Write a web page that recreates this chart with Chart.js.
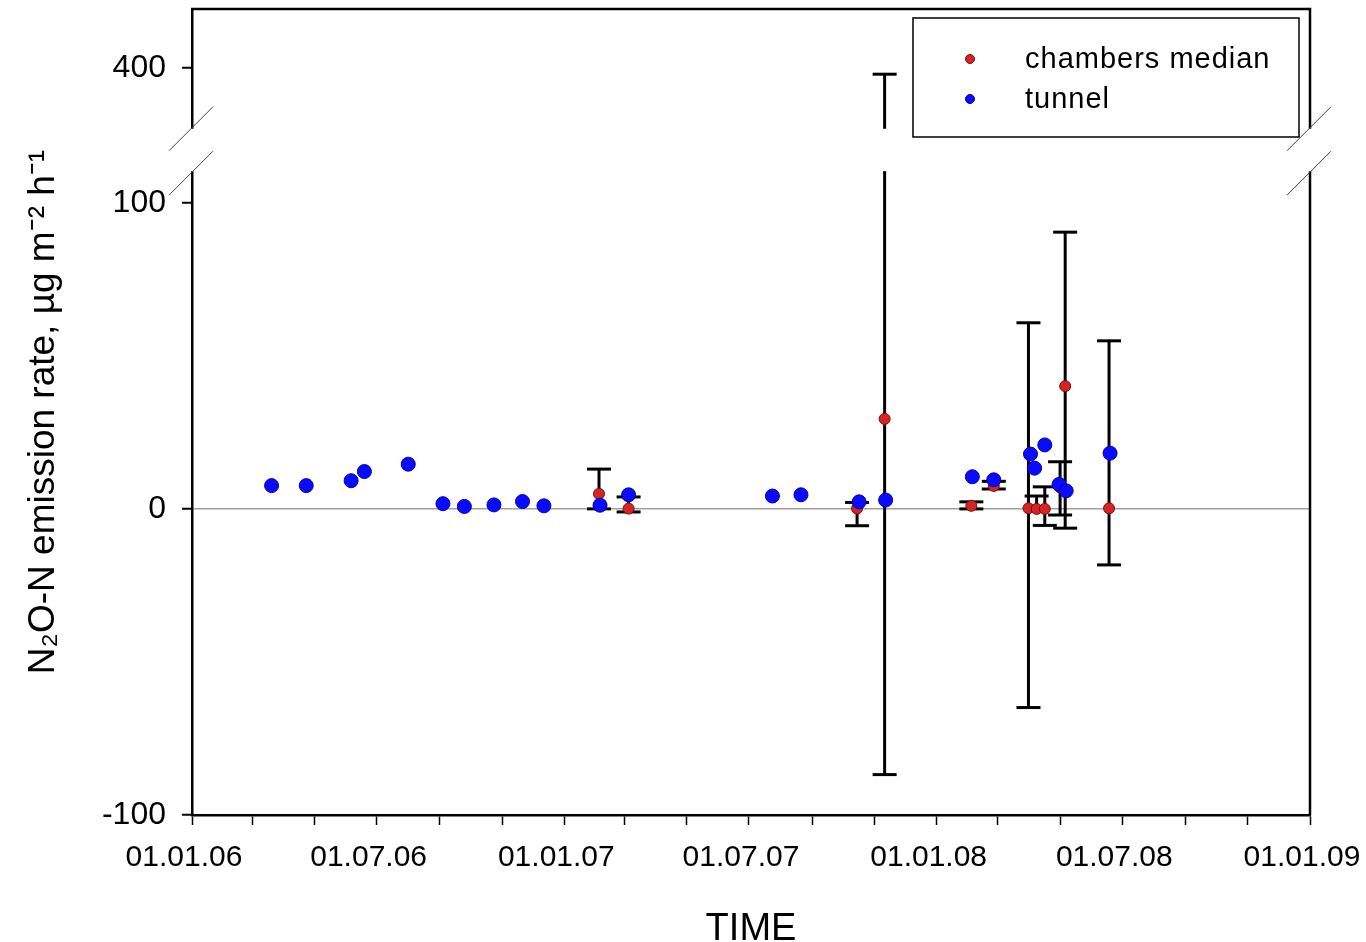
<!DOCTYPE html>
<html lang="en">
<head>
<meta charset="UTF-8">
<title>N2O-N emission rate</title>
<script src="https://cdn.jsdelivr.net/npm/chart.js"></script>
<style>
    body { margin: 0; background: #fff; }
    #caixa { width: 1366px; height: 942px; }
</style>
</head>
<body>
<div id="caixa"><canvas id="grafico" width="1366" height="942"></canvas></div>

<script>
    // tunnel measurements (dates yyyy-mm-dd)
    const tunnelDates = ['2006-03-20', '2006-04-23', '2006-06-06', '2006-06-19', '2006-08-01', '2006-09-04',
        '2006-09-25', '2006-10-24', '2006-11-21', '2006-12-12', '2007-02-05', '2007-03-05',
        '2007-07-24', '2007-08-21', '2007-10-17', '2007-11-12', '2008-02-05', '2008-02-26',
        '2008-04-02', '2008-04-06', '2008-04-16', '2008-04-30', '2008-05-07', '2008-06-19'];
    const tunnelValues = [7.6, 7.6, 9.2, 12.2, 14.6, 1.7, 0.8, 1.3, 2.4, 1.0, 1.2, 4.6,
        4.2, 4.6, 2.3, 2.9, 10.5, 9.5, 17.9, 13.3, 20.9, 8.0, 5.9, 18.2];

    // chambers: median with min / max
    const chamberDates = ['2007-02-04', '2007-03-05', '2007-10-15', '2007-11-11', '2008-02-04', '2008-02-26',
        '2008-03-31', '2008-04-08', '2008-04-16', '2008-05-01', '2008-05-06', '2008-06-18'];
    const chamberMedian = [4.9, 0.1, 0.1, 29.4, 1.0, 7.5, 0.2, 0.0, 0.0, 7.0, 40.1, 0.2];
    const chamberLow = [0.0, -1.0, -5.5, -86.8, 0.0, 6.5, -64.9, -0.5, -5.4, -2.0, -6.3, -18.3];
    const chamberHigh = [13.0, 3.9, 2.1, 398, 2.3, 9.0, 60.8, 4.2, 7.2, 15.4, 90.4, 54.9];

    const yTicks = [-100, 0, 100, 400];
    const xTickDates = ['2006-01-01', '2006-03-01', '2006-05-01', '2006-07-01', '2006-09-01', '2006-11-01',
        '2007-01-01', '2007-03-01', '2007-05-01', '2007-07-01', '2007-09-01', '2007-11-01',
        '2008-01-01', '2008-03-01', '2008-05-01', '2008-07-01', '2008-09-01', '2008-11-01', '2009-01-01'];
    const xTickLabels = ['01.01.06', '', '', '01.07.06', '', '', '01.01.07', '', '', '01.07.07', '', '',
        '01.01.08', '', '', '01.07.08', '', '', '01.01.09'];

    // eixo y quebrado: -100..110 em baixo, 380.5..419.3 em cima
    const yMin = -100, lowTop = 110, highBottom = 380.5, highTop = 419.3, gapSize = 14.5;

    function toDay(d) {
        return (Date.parse(d) - Date.parse('2006-01-01')) / 86400000;
    }

    function toVirtual(v) {
        if (v <= lowTop) return v;
        if (v >= highBottom) return lowTop + gapSize + (v - highBottom);
        return lowTop + gapSize * (v - lowTop) / (highBottom - lowTop);
    }

    function fromVirtual(v) {
        if (v <= lowTop) return v;
        if (v >= lowTop + gapSize) return v - lowTop - gapSize + highBottom;
        return lowTop + (v - lowTop) / gapSize * (highBottom - lowTop);
    }

    const vMax = toVirtual(highTop);

    class BrokenScale extends Chart.LinearScale {
        getPixelForValue(value) {
            if (value === null || value === undefined || isNaN(value)) return NaN;
            return this.getPixelForDecimal((toVirtual(value) - yMin) / (vMax - yMin));
        }
        getValueForPixel(pixel) {
            return fromVirtual(yMin + this.getDecimalForPixel(pixel) * (vMax - yMin));
        }
    }
    BrokenScale.id = 'broken';
    BrokenScale.defaults = {};
    Chart.register(BrokenScale);

    // barras de erro: low -> high, com null para separar
    const whiskerData = [];
    chamberDates.forEach((d, i) => {
        whiskerData.push({ x: toDay(d), y: chamberLow[i] });
        whiskerData.push({ x: toDay(d), y: chamberHigh[i] });
        whiskerData.push({ x: toDay(d), y: null });
    });

    const tunnelData = tunnelDates.map((d, i) => ({ x: toDay(d), y: tunnelValues[i] }));
    const chamberData = chamberDates.map((d, i) => ({ x: toDay(d), y: chamberMedian[i] }));

    const fonte = "'Liberation Sans', Arial, sans-serif";
    Chart.defaults.font.family = fonte;
    Chart.defaults.color = '#000';

    // moldura, quebra do eixo e legenda
    const moldura = {
        id: 'moldura',
        afterDraw(chart) {
            const ctx = chart.ctx;
            const a = chart.chartArea;
            const ys = chart.scales.y;
            const gTop = ys.getPixelForValue(highBottom);
            const gBot = ys.getPixelForValue(lowTop);
            ctx.save();
            ctx.strokeStyle = '#000';
            ctx.lineWidth = 2.5;
            ctx.beginPath();
            ctx.moveTo(a.left - 1, a.top);
            ctx.lineTo(a.right, a.top);
            ctx.lineTo(a.right, a.bottom);
            ctx.stroke();

            ctx.fillStyle = '#fff';
            ctx.fillRect(a.left - 4, gTop + 1, a.right - a.left + 8, gBot - gTop - 2);
            ctx.strokeStyle = '#444';
            ctx.lineWidth = 1;
            [a.left, a.right].forEach(x => {
                [gTop, gBot].forEach(y => {
                    ctx.beginPath();
                    ctx.moveTo(x - 23, y + 23);
                    ctx.lineTo(x + 21, y - 21);
                    ctx.stroke();
                });
            });

            // legenda
            const bx = a.right - 397, by = a.top + 9, bw = 386, bh = 119;
            ctx.fillStyle = '#fff';
            ctx.fillRect(bx, by, bw, bh);
            ctx.strokeStyle = '#000';
            ctx.lineWidth = 1.5;
            ctx.strokeRect(bx, by, bw, bh);
            const itens = [chart.data.datasets[1], chart.data.datasets[0]];
            itens.forEach((ds, i) => {
                const cy = by + 41 + i * 40;
                ctx.beginPath();
                ctx.arc(bx + 57, cy, 4.5, 0, Math.PI * 2);
                ctx.fillStyle = ds.pointBackgroundColor;
                ctx.fill();
                ctx.lineWidth = 1;
                ctx.strokeStyle = ds.pointBorderColor;
                ctx.stroke();
                ctx.fillStyle = '#000';
                ctx.font = '29px ' + fonte;
                ctx.textBaseline = 'middle';
                ctx.textAlign = 'left';
                ctx.letterSpacing = '1px';
                ctx.fillText(ds.label, bx + 112, cy + 1);
            });
            ctx.restore();
        }
    };

    const config = {
        type: 'line',
        data: {
            datasets: [
                {
                    label: 'tunnel',
                    data: tunnelData,
                    showLine: false,
                    pointRadius: 7,
                    pointBackgroundColor: '#0a0aff',
                    pointBorderColor: '#0000b0',
                    pointBorderWidth: 1,
                    order: 0
                },
                {
                    label: 'chambers median',
                    data: chamberData,
                    showLine: false,
                    pointRadius: 5.5,
                    pointBackgroundColor: '#d42424',
                    pointBorderColor: '#7a0b0b',
                    pointBorderWidth: 1,
                    order: 1
                },
                {
                    label: '',
                    data: whiskerData,
                    showLine: true,
                    spanGaps: false,
                    borderColor: '#000',
                    borderWidth: 3,
                    pointStyle: 'line',
                    pointRadius: 12,
                    pointBorderColor: '#000',
                    pointBorderWidth: 3,
                    order: 2
                }
            ]
        },
        options: {
            responsive: false,
            animation: false,
            layout: { autoPadding: false, padding: { top: 9, right: 56, left: 0, bottom: 0 } },
            plugins: {
                legend: { display: false },
                tooltip: { enabled: false }
            },
            scales: {
                x: {
                    type: 'linear',
                    min: toDay('2006-01-01'),
                    max: toDay('2009-01-01'),
                    afterBuildTicks: s => { s.ticks = xTickDates.map(d => ({ value: toDay(d) })); },
                    afterFit: s => { s.height = 127; s.paddingLeft = 0; s.paddingRight = 0; },
                    ticks: {
                        autoSkip: false,
                        maxRotation: 0,
                        padding: 15,
                        labelOffset: -8,
                        font: { size: 30 },
                        callback: (v, i) => xTickLabels[i]
                    },
                    grid: { drawOnChartArea: false, tickLength: 10, tickColor: '#000', tickWidth: 1.5 },
                    border: { display: true, color: '#000', width: 2.5 },
                    title: {
                        display: true,
                        text: 'TIME',
                        font: { size: 38, lineHeight: 0.65 },
                        padding: { top: 0, bottom: 0 }
                    }
                },
                y: {
                    type: 'broken',
                    min: yMin,
                    max: highTop,
                    afterBuildTicks: s => { s.ticks = yTicks.map(v => ({ value: v })); },
                    afterFit: s => { s.width = 192; s.paddingTop = 0; s.paddingBottom = 0; },
                    ticks: {
                        padding: 16,
                        font: { size: 32 },
                        callback: v => String(v)
                    },
                    grid: {
                        color: c => (c.tick && c.tick.value === 0) ? '#a0a0a0' : 'rgba(0,0,0,0)',
                        lineWidth: 1.5,
                        tickLength: 10,
                        tickColor: '#000',
                        tickWidth: 2
                    },
                    border: { display: true, color: '#000', width: 2.5 },
                    title: {
                        display: true,
                        text: 'N₂O-N emission rate, µg m⁻² h⁻¹',
                        font: { size: 37 },
                        padding: { top: 22, bottom: 0 }
                    }
                }
            }
        },
        plugins: [moldura]
    };

    const grafico = new Chart(document.getElementById('grafico'), config);
</script>
</body>
</html>
